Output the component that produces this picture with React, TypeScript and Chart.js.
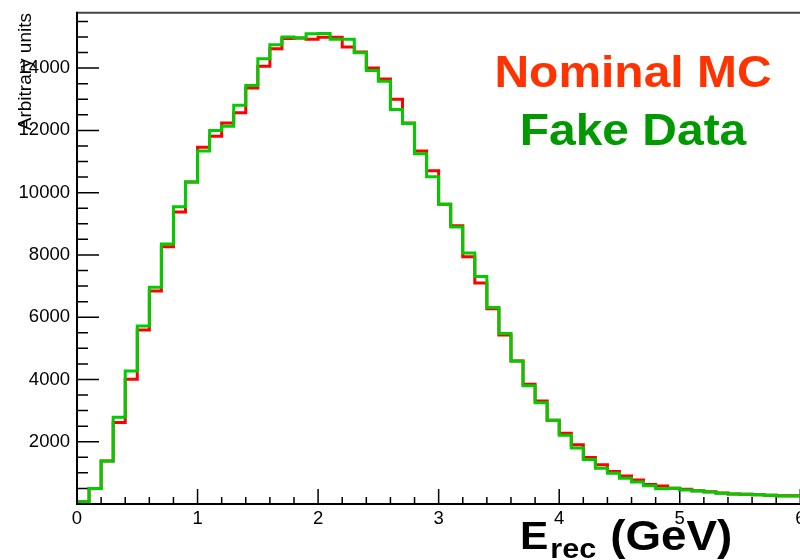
import React, { useEffect, useRef } from "react";
import { Chart, registerables } from "chart.js";

Chart.register(...registerables);

// Histogram definition: 60 bins of 0.1 GeV from 0 to 6 GeV
const BIN_LOW = 0;
const BIN_WIDTH = 0.1;

// Nominal MC (red) bin contents
const nominalMC = [
  15, 75, 500, 1380, 2620, 4010, 5590, 6840, 8260, 9380,
  10340, 11460, 11810, 12240, 12570, 13360, 14060, 14620, 14950, 14970,
  14930, 14990, 14990, 14680, 14520, 14000, 13650, 13000, 12240, 11340,
  10700, 9630, 8935, 7940, 7100, 6270, 5425, 4590, 3850, 3307,
  2690, 2270, 1900, 1490, 1260, 1040, 900, 770, 630, 578,
  503, 471, 425, 395, 350, 325, 310, 300, 285, 262,
];

// Fake Data (green) bin contents
const fakeData = [
  15, 75, 500, 1380, 2790, 4270, 5720, 6960, 8350, 9545,
  10340, 11340, 12000, 12130, 12810, 13440, 14300, 14750, 15000, 14970,
  15100, 15110, 14930, 14930, 14490, 13920, 13580, 12670, 12220, 11250,
  10510, 9630, 8900, 8060, 7310, 6310, 5480, 4590, 3800, 3253,
  2690, 2210, 1800, 1430, 1145, 985, 824, 706, 590, 492,
  503, 449, 417, 385, 343, 321, 310, 299, 278, 257,
];

const xTickValues = [0, 1, 2, 3, 4, 5, 6];
const yTickValues = [2000, 4000, 6000, 8000, 10000, 12000, 14000];
const X_MIN = 0;
const X_MAX = 6;
const Y_MIN = 0;
const Y_MAX = 15780;
const X_MINOR = 0.2;
const Y_MINOR = 500;

const FONT = '"Liberation Sans", Arial, Helvetica, sans-serif';
const HSCALE = 1.09;

function toSteps(values: number[]) {
  const pts = values.map((v, i) => ({ x: BIN_LOW + i * BIN_WIDTH, y: v }));
  pts.push({ x: BIN_LOW + values.length * BIN_WIDTH, y: values[values.length - 1] });
  return pts;
}

const framePlugin = {
  id: "rootFrame",
  beforeDatasetsDraw(chart: any) {
    const { ctx, chartArea, scales } = chart;
    const xs = scales.x;
    const ys = scales.y;
    ctx.save();
    ctx.strokeStyle = "#000";
    ctx.lineWidth = 1.5;
    ctx.beginPath();
    for (let v = X_MIN; v <= X_MAX + 1e-9; v += X_MINOR) {
      const px = xs.getPixelForValue(v);
      const major = Math.abs(v - Math.round(v)) < 1e-6;
      const len = major ? 15 : 7;
      ctx.moveTo(px, chartArea.bottom);
      ctx.lineTo(px, chartArea.bottom - len);
    }
    for (let v = Y_MIN; v <= Y_MAX; v += Y_MINOR) {
      const py = ys.getPixelForValue(v);
      const major = v % 2000 === 0;
      const len = major ? 22 : 11;
      ctx.moveTo(chartArea.left, py);
      ctx.lineTo(chartArea.left + len, py);
    }
    ctx.stroke();
    ctx.restore();
  },
  afterDraw(chart: any) {
    const { ctx, chartArea } = chart;
    ctx.save();
    ctx.lineWidth = 2;
    ctx.strokeStyle = "#444";
    ctx.beginPath();
    ctx.moveTo(chartArea.left, chartArea.top);
    ctx.lineTo(chart.width, chartArea.top);
    ctx.stroke();
    ctx.strokeStyle = "#000";
    ctx.beginPath();
    ctx.moveTo(chartArea.left, chartArea.top - 1);
    ctx.lineTo(chartArea.left, chartArea.bottom);
    ctx.lineTo(chart.width, chartArea.bottom);
    ctx.stroke();

    // y axis title
    ctx.save();
    ctx.translate(31, 13);
    ctx.rotate(-Math.PI / 2);
    ctx.font = `19px ${FONT}`;
    ctx.fillStyle = "#000";
    ctx.textAlign = "right";
    ctx.textBaseline = "alphabetic";
    ctx.fillText("Arbitrary units", 0, 0);
    ctx.restore();

    const drawScaled = (text: string, cx: number, by: number, font: string, color: string, align: CanvasTextAlign) => {
      ctx.save();
      ctx.translate(cx, by);
      ctx.scale(HSCALE, 1);
      ctx.font = font;
      ctx.fillStyle = color;
      ctx.textAlign = align;
      ctx.textBaseline = "alphabetic";
      ctx.fillText(text, 0, 0);
      ctx.restore();
    };
    drawScaled("Nominal MC", 633, 87, `bold 44px ${FONT}`, "#ff3300", "center");
    drawScaled("Fake Data", 633, 145, `bold 44px ${FONT}`, "#009900", "center");

    // x axis title with subscript
    ctx.save();
    ctx.font = `bold 39px ${FONT}`;
    const wE = ctx.measureText("E").width * HSCALE;
    ctx.font = `bold 28px ${FONT}`;
    const wRec = ctx.measureText("rec").width * HSCALE;
    ctx.restore();
    const x0 = 520;
    drawScaled("E", x0, 549, `bold 39px ${FONT}`, "#000", "left");
    drawScaled("rec", x0 + wE + 2, 558, `bold 28px ${FONT}`, "#000", "left");
    drawScaled("(GeV)", x0 + wE + 2 + wRec + 14, 550, `bold 42px ${FONT}`, "#000", "left");
    ctx.restore();
  },
};

export default function App() {
  const ref = useRef<HTMLCanvasElement | null>(null);
  useEffect(() => {
    if (!ref.current) return;
    const chart = new Chart(ref.current, {
      type: "line",
      data: {
        datasets: [
          {
            label: "Fake Data",
            data: toSteps(fakeData),
            stepped: "after",
            borderColor: "#00cc00",
            borderWidth: 3,
            pointRadius: 0,
            fill: false,
            order: 0,
          },
          {
            label: "Nominal MC",
            data: toSteps(nominalMC),
            stepped: "after",
            borderColor: "#ff0000",
            borderWidth: 3,
            pointRadius: 0,
            fill: false,
            order: 1,
          },
        ],
      },
      options: {
        responsive: false,
        animation: false,
        devicePixelRatio: 1,
        layout: { padding: { left: 0, top: 12.7, right: 29.7, bottom: 0 } },
        plugins: { legend: { display: false }, tooltip: { enabled: false }, title: { display: false } },
        scales: {
          x: {
            type: "linear",
            min: X_MIN,
            max: X_MAX,
            grid: { display: false, drawTicks: false },
            border: { display: false },
            afterFit: (s: any) => {
              s.height = 56;
              s.paddingLeft = 0;
              s.paddingRight = 0;
            },
            afterBuildTicks: (s: any) => {
              s.ticks = xTickValues.map((v) => ({ value: v }));
            },
            ticks: {
              padding: 4,
              maxRotation: 0,
              autoSkip: false,
              color: "#000",
              font: { family: FONT, size: 18.5 },
              callback: (v: any) => String(v),
            },
          },
          y: {
            type: "linear",
            min: Y_MIN,
            max: Y_MAX,
            grid: { display: false, drawTicks: false },
            border: { display: false },
            afterFit: (s: any) => {
              s.width = 77;
              s.paddingTop = 0;
              s.paddingBottom = 0;
            },
            afterBuildTicks: (s: any) => {
              s.ticks = yTickValues.map((v) => ({ value: v }));
            },
            ticks: {
              padding: 7,
              autoSkip: false,
              color: "#000",
              font: { family: FONT, size: 18.5 },
              callback: (v: any) => String(v),
            },
          },
        },
      },
      plugins: [framePlugin],
    });
    return () => chart.destroy();
  }, []);
  return (
    <div style={{ position: "fixed", left: 0, top: 0, width: 800, height: 560, overflow: "hidden", background: "#fff" }}>
      <canvas ref={ref} width={830} height={560} style={{ display: "block" }} />
    </div>
  );
}
